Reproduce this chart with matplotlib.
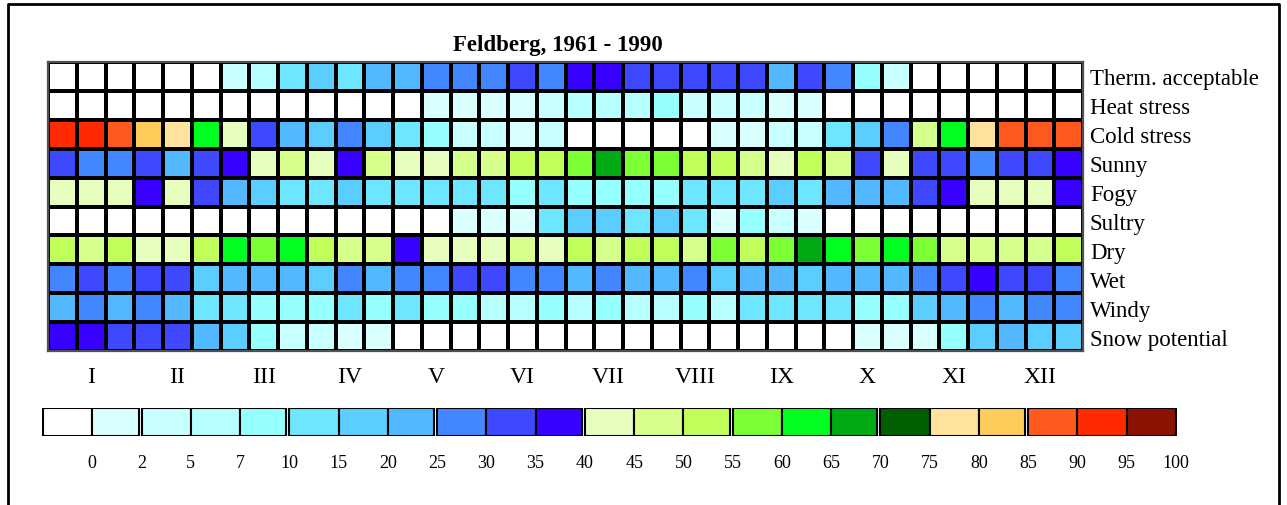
import matplotlib
matplotlib.use("Agg")
import matplotlib.pyplot as plt
import numpy as np
from matplotlib.colors import ListedColormap, BoundaryNorm
from matplotlib.lines import Line2D

plt.rcParams['font.family'] = ['Liberation Serif', 'DejaVu Serif']

# class boundaries (percent) and the colour of each class
bounds = [0, 2, 5, 7, 10, 15, 20, 25, 30, 35, 40, 45, 50, 55, 60, 65, 70, 75, 80, 85, 90, 95, 100]
palette = ['#ffffff', '#daffff', '#c8ffff', '#b8ffff', '#96ffff',
           '#6ee6ff', '#5ccdff', '#52b8ff',
           '#4287ff', '#3d48ff', '#3700ff',
           '#e6ffbf', '#d6ff8c', '#c0ff5a',
           '#7cff34', '#00ff20', '#00aa14',
           '#006000', '#ffe29b', '#ffcb5b',
           '#ff5a1e', '#ff2a00', '#8b1200']
group_ends = [1, 4, 7, 10, 13, 16, 19]

months = ['I', 'II', 'III', 'IV', 'V', 'VI', 'VII', 'VIII', 'IX', 'X', 'XI', 'XII']
parameters = ['Therm. acceptable', 'Heat stress', 'Cold stress', 'Sunny', 'Fogy',
              'Sultry', 'Dry', 'Wet', 'Windy', 'Snow potential']

# class index per 10-day period (3 per month)
therm_acceptable = [0, 0, 0, 0, 0, 0, 2, 3, 5, 6, 5, 7, 7, 8, 8, 8, 9, 8,
                    10, 10, 9, 9, 9, 9, 9, 7, 9, 8, 4, 2, 0, 0, 0, 0, 0, 0]
heat_stress = [0, 0, 0, 0, 0, 0, 0, 0, 0, 0, 0, 0, 0, 1, 1, 1, 1, 2,
               3, 3, 3, 4, 2, 2, 2, 1, 1, 0, 0, 0, 0, 0, 0, 0, 0, 0]
cold_stress = [21, 21, 20, 19, 18, 15, 11, 9, 7, 6, 8, 6, 5, 4, 2, 2, 1, 2,
               0, 0, 0, 0, 0, 1, 1, 2, 2, 5, 6, 8, 12, 15, 18, 20, 20, 20]
sunny = [9, 8, 8, 9, 7, 9, 10, 11, 12, 11, 10, 12, 11, 11, 12, 12, 13, 13,
         14, 16, 14, 14, 13, 13, 12, 11, 13, 12, 9, 11, 9, 9, 8, 9, 9, 10]
fogy = [11, 11, 11, 10, 11, 9, 7, 6, 5, 5, 6, 5, 5, 5, 5, 5, 4, 5,
        4, 4, 4, 4, 5, 5, 5, 6, 5, 7, 7, 7, 9, 10, 11, 11, 11, 10]
sultry = [0, 0, 0, 0, 0, 0, 0, 0, 0, 0, 0, 0, 0, 0, 1, 1, 1, 5,
          6, 6, 5, 6, 5, 1, 4, 2, 1, 0, 0, 0, 0, 0, 0, 0, 0, 0]
dry = [13, 12, 13, 11, 11, 13, 15, 14, 15, 13, 12, 12, 10, 11, 11, 11, 12, 11,
       13, 12, 13, 13, 12, 14, 13, 14, 16, 15, 14, 15, 14, 12, 12, 12, 12, 13]
wet = [8, 9, 8, 9, 9, 6, 7, 7, 7, 6, 8, 7, 8, 8, 9, 9, 8, 8,
       7, 8, 7, 7, 8, 6, 7, 7, 6, 7, 7, 7, 8, 9, 10, 9, 9, 8]
windy = [7, 8, 7, 8, 7, 5, 5, 4, 4, 4, 5, 4, 5, 4, 4, 3, 3, 4,
         3, 4, 3, 3, 4, 3, 5, 5, 5, 5, 4, 4, 6, 7, 8, 7, 8, 8]
snow_potential = [10, 10, 9, 9, 9, 7, 6, 4, 2, 2, 1, 1, 0, 0, 0, 0, 0, 0,
                  0, 0, 0, 0, 0, 0, 0, 0, 0, 0, 1, 1, 1, 4, 6, 7, 6, 6]

grid = np.array([therm_acceptable, heat_stress, cold_stress, sunny, fogy,
                 sultry, dry, wet, windy, snow_potential])

W, H = 1287, 506
fig = plt.figure(figsize=(W / 100, H / 100), dpi=100)

cmap = ListedColormap(palette)
norm = BoundaryNorm(np.arange(len(palette) + 1) - 0.5, cmap.N)

# main table
ax = fig.add_axes([48 / W, 1 - 352 / H, 1035 / W, 289 / H])
ax.pcolormesh(grid, cmap=cmap, norm=norm, edgecolors='black', linewidth=1.5)
ax.set_xlim(0, grid.shape[1])
ax.set_ylim(grid.shape[0], 0)
ax.set_xticks(np.arange(len(months)) * 3 + 1.5)
ax.set_xticklabels(months, fontsize=17)
ax.set_yticks(np.arange(len(parameters)) + 0.5)
ax.set_yticklabels(parameters, fontsize=16.5)
ax.yaxis.tick_right()
ax.tick_params(axis='x', length=0, pad=11)
ax.tick_params(axis='y', length=0, pad=5)
for s in ax.spines.values():
    s.set_color('#505050')
    s.set_linewidth(1.6)

fig.text(558 / W, 1 - 46 / H, 'Feldberg, 1961 - 1990', ha='center', va='center',
         fontsize=16.5, fontweight='bold')

# legend bar
cax = fig.add_axes([42 / W, 1 - 437 / H, 1135 / W, 28 / H])
widths = [0.94 if i in group_ends else 1.0 for i in range(len(palette))]
cax.bar(np.arange(len(palette)), 1, width=widths, align='edge', color=palette,
        edgecolor='black', linewidth=1.5)
cax.set_xlim(-0.02, len(palette) + 0.02)
cax.set_ylim(0, 1)
cax.set_yticks([])
cax.set_xticks(np.arange(len(bounds)) + 1)
cax.set_xticklabels([str(b) for b in bounds], fontsize=13)
cax.tick_params(axis='x', length=0, pad=13)
for s in cax.spines.values():
    s.set_visible(False)

# outer frame (open at the bottom)
fig.add_artist(Line2D([8 / W, 8 / W, 1279 / W, 1279 / W], [0, 1 - 5 / H, 1 - 5 / H, 0],
                      transform=fig.transFigure, color='black', linewidth=2))

fig.savefig('out.png', dpi=100)
